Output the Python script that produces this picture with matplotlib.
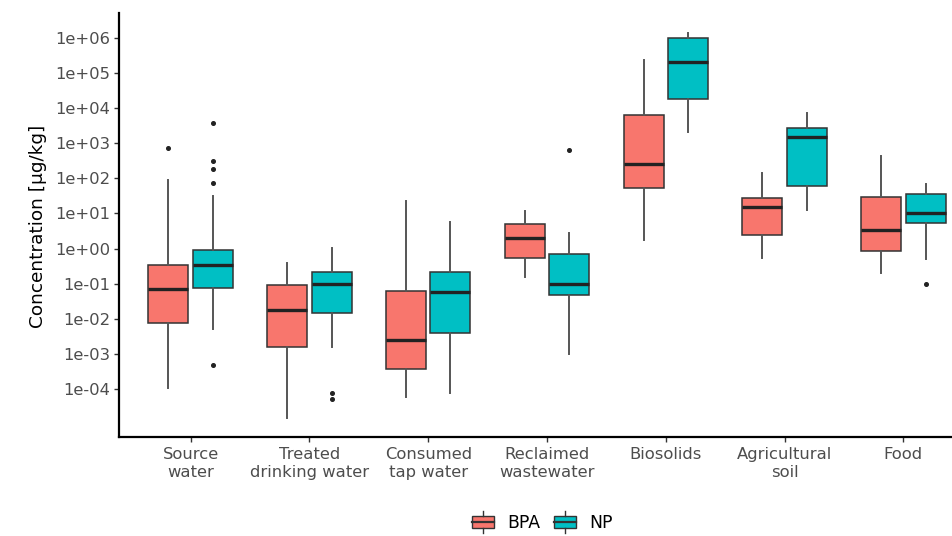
"""Boxplots BPA / NP concentrations by compartment (log scale)."""

import matplotlib
matplotlib.use("Agg")
import matplotlib.pyplot as plt
from matplotlib.legend_handler import HandlerBase
from matplotlib.lines import Line2D
from matplotlib.patches import Patch, Rectangle

categories = [
    "Source\nwater",
    "Treated\ndrinking water",
    "Consumed\ntap water",
    "Reclaimed\nwastewater",
    "Biosolids",
    "Agricultural\nsoil",
    "Food",
]

# BPA box stats, µg/kg
bpa_whislo = [1.1e-4, 1.5e-5, 6.2e-5, 0.153, 1.8, 0.553, 0.199]
bpa_q1 = [7.8e-3, 1.6e-3, 3.7e-4, 0.553, 53, 2.4, 0.84]
bpa_med = [7.3e-2, 0.018, 2.6e-3, 2.0, 250, 15, 3.4]
bpa_q3 = [0.34, 0.091, 0.0625, 4.93, 6200, 27, 29.4]
bpa_whishi = [90, 0.40, 22.6, 12.0, 2.3e5, 142, 432]
bpa_fliers = [[745], [], [], [], [], [], []]

# NP box stats, µg/kg
np_whislo = [5.1e-3, 1.6e-3, 8.0e-5, 1.0e-3, 2040, 12.6, 0.518]
np_q1 = [0.074, 0.0145, 3.9e-3, 0.047, 1.8e4, 60.5, 5.4]
np_med = [0.34, 0.099, 0.058, 0.10, 2.04e5, 1500, 10.5]
np_q3 = [0.92, 0.217, 0.212, 0.705, 9.6e5, 2750, 35.9]
np_whishi = [31, 1.06, 5.8, 2.84, 1.33e6, 7080, 70.5]
np_fliers = [[3830, 305, 180, 75, 4.9e-4], [7.7e-5, 5.4e-5], [], [627], [], [], [0.097]]

groups = ["BPA", "NP"]
colors = {"BPA": "#F8766D", "NP": "#00BFC4"}

EDGE = "#333333"
TXT = "#4d4d4d"


def make_stats(whislo, q1, med, q3, whishi, fliers):
    return [
        dict(whislo=a, q1=b, med=c, q3=d, whishi=e, fliers=f)
        for a, b, c, d, e, f in zip(whislo, q1, med, q3, whishi, fliers)
    ]


class BoxKeyHandler(HandlerBase):
    # petite boîte façon ggplot dans la légende
    def create_artists(self, legend, orig_handle, xdescent, ydescent,
                       width, height, fontsize, trans):
        x0, y0 = -xdescent, -ydescent
        bw, bh = width, height * 0.82
        by = y0 + (height - bh) / 2
        rect = Rectangle((x0, by), bw, bh, facecolor=orig_handle.get_facecolor(),
                         edgecolor=EDGE, lw=1.0, transform=trans)
        med = Line2D([x0, x0 + bw], [y0 + height / 2] * 2, color=EDGE, lw=1.6,
                     transform=trans)
        top = Line2D([x0 + bw / 2] * 2, [by + bh, y0 + height + 2.5], color=EDGE,
                     lw=1.0, transform=trans)
        bot = Line2D([x0 + bw / 2] * 2, [by, y0 - 2.5], color=EDGE, lw=1.0,
                     transform=trans)
        return [rect, med, top, bot]


stats = {
    "BPA": make_stats(bpa_whislo, bpa_q1, bpa_med, bpa_q3, bpa_whishi, bpa_fliers),
    "NP": make_stats(np_whislo, np_q1, np_med, np_q3, np_whishi, np_fliers),
}
offsets = {"BPA": -0.187, "NP": 0.187}
box_w = 0.337

plt.rcParams["font.family"] = ["DejaVu Sans"]

fig = plt.figure(figsize=(9.52, 5.36), dpi=100)
ax = fig.add_axes([119.4 / 952, 99 / 536, 855.3 / 952, 424 / 536])

for g in groups:
    pos = [i + 1 + offsets[g] for i in range(len(categories))]
    ax.bxp(
        stats[g],
        positions=pos,
        widths=box_w,
        patch_artist=True,
        showcaps=False,
        boxprops=dict(facecolor=colors[g], edgecolor=EDGE, lw=1.1),
        medianprops=dict(color="#222222", lw=2.4, solid_capstyle="butt"),
        whiskerprops=dict(color="#555555", lw=1.4),
        flierprops=dict(marker="o", markersize=2.6, markerfacecolor="#222222",
                        markeredgecolor="#222222"),
        manage_ticks=False,
    )

ax.set_yscale("log")
ax.set_ylim(10 ** -5.357, 10 ** 6.70)
ax.set_xlim(0.4, 7.6)

yt = [10.0 ** k for k in range(-4, 7)]
ax.set_yticks(yt)
ax.set_yticklabels([f"1e{k:+03d}" for k in range(-4, 7)])
ax.minorticks_off()
ax.set_xticks(range(1, len(categories) + 1))
ax.set_xticklabels(categories, linespacing=1.2)

ax.tick_params(axis="both", colors=EDGE, labelcolor=TXT, labelsize=11.8,
               length=3.5, width=1.0, direction="out")
ax.tick_params(axis="x", pad=4)
ax.tick_params(axis="y", pad=3)

for s in ["top", "right"]:
    ax.spines[s].set_visible(False)
for s in ["left", "bottom"]:
    ax.spines[s].set_color("black")
    ax.spines[s].set_linewidth(1.6)

fig.text(38 / 952, 1 - 226 / 536, "Concentration [µg/kg]", rotation=90,
         ha="center", va="center", fontsize=13.3, color="black")

handles = [Patch(facecolor=colors[g], label=g) for g in groups]
fig.legend(
    handles=handles,
    labels=groups,
    handler_map={Patch: BoxKeyHandler()},
    loc="center",
    bbox_to_anchor=(542 / 952, 1 - 523 / 536),
    ncol=2,
    frameon=False,
    fontsize=12.4,
    handlelength=1.3,
    handleheight=0.95,
    handletextpad=0.75,
    columnspacing=0.8,
    labelcolor="black",
)

fig.savefig("out.png", dpi=100)
